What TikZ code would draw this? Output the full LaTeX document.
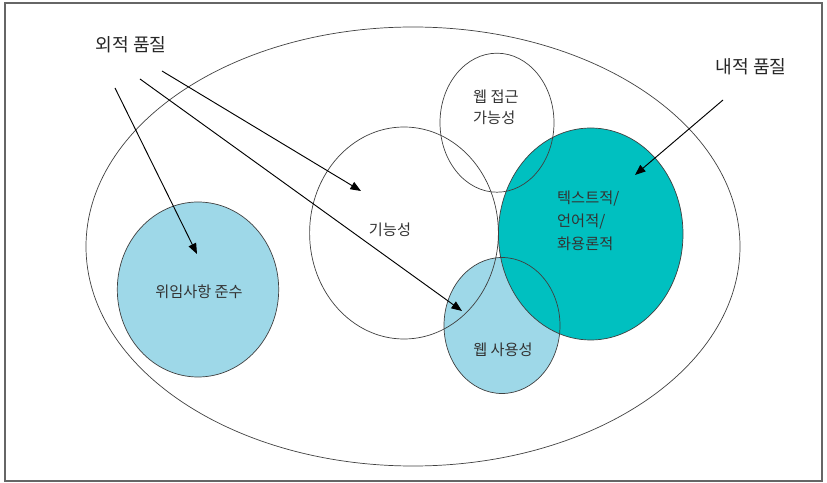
\documentclass[tikz,border=0pt]{standalone}
\usepackage{fontspec}
\newfontfamily\kofont{Noto Sans CJK KR}
\usetikzlibrary{arrows.meta}
\definecolor{lightsea}{RGB}{158,216,232}
\definecolor{deepteal}{RGB}{0,192,192}

\begin{document}
\begin{tikzpicture}[
    x=0.03cm, y=-0.03cm,
    ring/.style={draw=black!75, line width=0.6pt},
    outlbl/.style={font=\kofont\fontsize{15.5}{18}\selectfont, text=black!85, inner sep=0pt},
    inlbl/.style={font=\kofont\fontsize{13}{18}\selectfont, text=black!80,
                  align=left, inner sep=0pt},
    pointer/.style={-{Triangle[length=9pt, width=7pt]}, line width=0.8pt, black},
]
  \useasboundingbox (0,0) rectangle (827,483);
  \draw[black!60, line width=1pt] (5,3) rectangle (822,481);

  % ---- fills ----
  \fill[lightsea] (198,289.5) ellipse (80.7 and 87.5);
  \fill[lightsea] (502,325.5) ellipse (58 and 68);
  \fill[deepteal] (590.7,234) ellipse (92.3 and 106);

  % ---- outlines ----
  \draw[ring] (413,246.5) ellipse (327 and 219.5);
  \draw[ring] (198,289.5) ellipse (80.7 and 87.5);
  \draw[ring] (404,233) ellipse (94.4 and 106);
  \draw[ring] (497,122.7) ellipse (57 and 69.5);
  \draw[ring] (590.7,234) ellipse (92.3 and 106);
  \draw[ring] (502,325.5) ellipse (58 and 68);

  % ---- labels ----
  \node[outlbl] (extq) at (131,45) {외적 품질};
  \node[outlbl] (intq) at (751,67) {내적 품질};
  \node[inlbl, anchor=west] (access) at (473,107) {웹 접근\\가능성};
  \node[inlbl, anchor=west, font=\kofont\fontsize{13}{19.5}\selectfont]
    (textual) at (557,221) {텍스트적/\\언어적/\\화용론적};
  \node[inlbl] (func) at (390,230) {기능성};
  \node[inlbl] (mandate) at (199,292) {위임사항 준수};
  \node[inlbl] (usab) at (503,350) {웹 사용성};

  % ---- arrows ----
  \coordinate (a1s) at (115,88);   \coordinate (a1t) at (197,254);
  \coordinate (a2s) at (162,71);   \coordinate (a2t) at (361,191);
  \coordinate (a3s) at (140,79);   \coordinate (a3t) at (462,311);
  \coordinate (a4s) at (723,100);  \coordinate (a4t) at (635,175);
  \draw[pointer] (a1s) -- (a1t);
  \draw[pointer] (a2s) -- (a2t);
  \draw[pointer] (a3s) -- (a3t);
  \draw[pointer] (a4s) -- (a4t);
\end{tikzpicture}
\end{document}
